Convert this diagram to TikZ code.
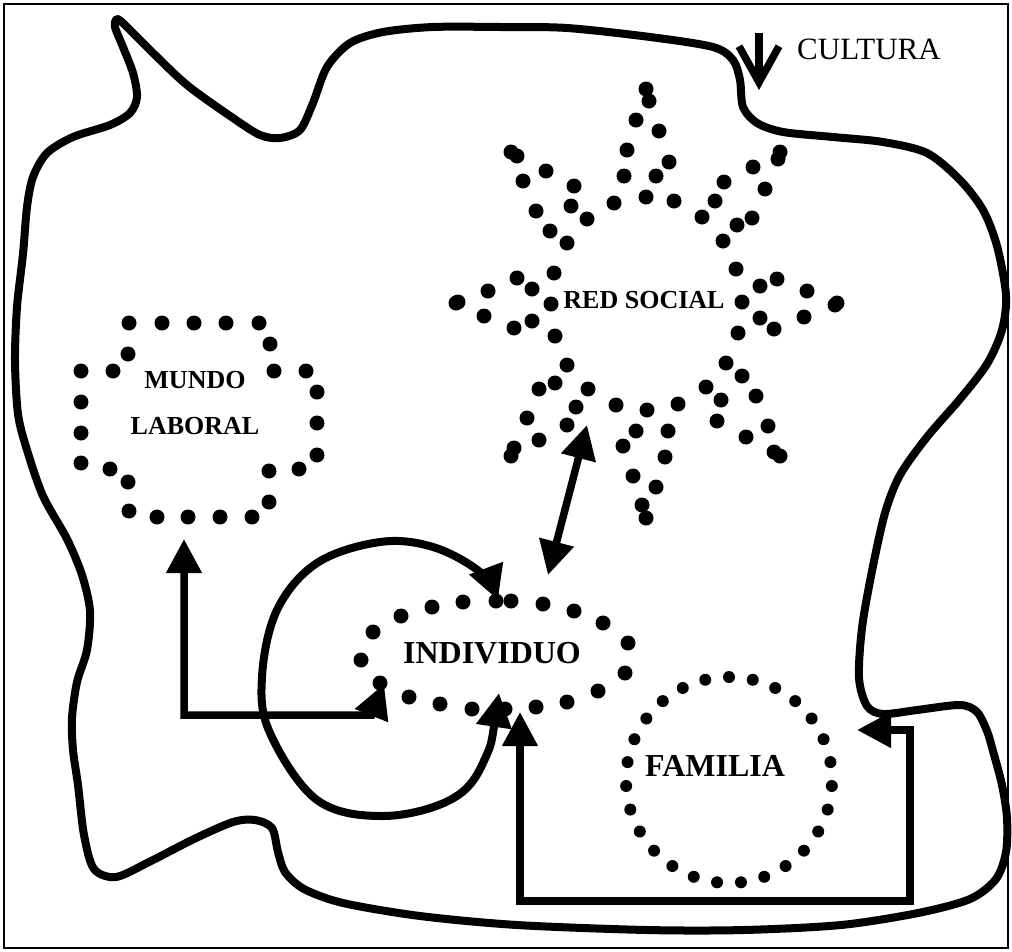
\documentclass[tikz,border=0pt]{standalone}
\usepackage{fontspec}
\setmainfont{Liberation Serif}
\usetikzlibrary{arrows.meta}

\tikzset{
  blob/.style={line width=8pt, line join=round},
  link/.style={line width=7.5pt},
  lbl/.style={font=\fontsize{32}{36}\selectfont\bfseries},
  smalllbl/.style={font=\fontsize{26}{46}\selectfont\bfseries, align=center},
}

\begin{document}
\begin{tikzpicture}[x=1pt, y=-1pt, >={Triangle[length=34pt,width=34pt]}]
    \useasboundingbox (0,0) rectangle (1012,951);
    \draw [line width=1.8pt] (4,4) rectangle (1008,948);
    % cultura
    \draw [blob] plot [smooth cycle, tension=0.5] coordinates {
      (72,718) (77,682) (87,650) (90,611) (82,575) (67,539) (43,496) (27,450)
      (18,414) (15,361) (17,307) (23,254) (27,207) (33,177) (47,153) (73,137)
      (110,125) (130,113) (137,97) (133,73) (123,47) (115,27) (117,19) (125,25)
      (150,50) (187,85) (233,118) (260,135) (280,138) (300,130) (313,103) (327,67)
      (350,43) (383,32) (433,27) (500,27) (567,28) (650,37) (713,47) (733,60)
      (740,80) (743,107) (757,123) (783,132) (833,137) (883,142) (927,153) (960,180)
      (983,210) (997,246) (1006,295) (1002,330) (987,364) (960,399) (927,437) (900,475)
      (885,513) (872,571) (862,628) (859,678) (867,706) (883,714) (917,710) (960,705)
      (977,712) (987,731) (993,751) (1002,785) (1007,818) (1006,852) (996,879) (970,899)
      (918,913) (841,925) (744,930) (647,930) (517,925) (420,916) (343,903) (304,889)
      (285,872) (278,852) (272,828) (255,820) (233,822) (194,839) (149,862) (116,877)
      (94,869) (84,835) (78,785) (73,750)};
    \node [font=\fontsize{31}{36}\selectfont] (cultura) at (869,49) {CULTURA};
    \coordinate (cultura-top) at (759,33);
    \coordinate (cultura-in) at (759,90);
    \draw [link, -{Straight Barb[length=36pt,width=40pt]}] (cultura-top) -- (cultura-in);
    % red social
    \node [smalllbl] (redsocial) at (644,300) {RED SOCIAL};
    \foreach \x/\y in {646/89, 649/101, 636/120, 659/131, 627/150, 669/162, 624/176,
        656/176, 614/203, 646/197, 674/201,
        511/152, 517/156, 546/171, 523/181, 574/186, 571/206, 536/211, 587/219, 550/231, 567/243,
        780/152, 778/159, 753/167, 765/189, 724/182, 715/201, 702/217, 737/225, 752/218, 723/241,
        456/303, 458/302, 488/291, 484/316, 517/278, 532/289, 554/273, 551/304, 532/321, 514/328, 555/336,
        835/305, 837/303, 807/291, 804/317, 777/279, 760/286, 736/269, 742/302, 760/318, 774/329, 738/333,
        567/365, 555/383, 539/389, 588/389, 576/407, 527/418, 567/425, 539/440, 514/448, 511/456,
        616/405, 647/410, 678/404, 636/431, 668/431, 623/446, 665/457, 633/476, 656/487, 642/505, 646/518,
        726/363, 742/376, 706/387, 756/396, 721/400, 717/421, 768/426, 746/437, 774/452, 780/456}
      \fill (\x,\y) circle (7.5);
    % mundo laboral
    \node [smalllbl] (mundo) at (195,403) {MUNDO\\LABORAL};
    \foreach \x/\y in {129/323, 162/323, 194/323, 226/323, 259/323, 270/344, 128/354,
        81/371, 113/371, 274/371, 306/371, 317/392, 81/402, 317/423, 81/433, 317/455,
        81/463, 110/469, 128/482, 269/471, 299/469, 269/502,
        129/511, 157/517, 188/517, 220/517, 252/517}
      \fill (\x,\y) circle (7.5);
    % individuo
    \node [lbl] (individuo) at (492,653) {INDIVIDUO};
    \foreach \x/\y in {361/660, 373/632, 401/616, 432/607, 463/602, 496/601, 511/601,
        543/604, 574/611, 603/623, 628/643, 625/673, 598/691, 567/702, 536/707,
        505/709, 472/709, 440/704, 409/697, 380/683}
      \fill (\x,\y) circle (7.5);
    % familia
    \node [lbl] (familia) at (715,766) {FAMILIA};
    \foreach \i in {0,...,26}
      \fill (729,780) ++ ({96.67+\i*13.333}:103) circle (6);
    % links
    \coordinate (mundo-out) at (184,539);
    \coordinate (ind-left)  at (384,684);
    \coordinate (ind-top)   at (548,575);
    \coordinate (rs-in)     at (587,425);
    \coordinate (loop-a)    at (499,693);
    \coordinate (loop-b)    at (498,600);
    \coordinate (ind-bot)   at (520,712);
    \coordinate (fam-in)    at (857,730);
    \draw [link, <->] (mundo-out) -- (184,715) -- (371.7,715) -- (ind-left);
    \draw [link, <->] (ind-top) -- (rs-in);
    \draw [line width=8pt, <->] plot [smooth, tension=0.6] coordinates {
      (loop-a) (483,763) (450,800) (383,816) (317,800) (270,733) (262,677)
      (277,610) (317,563) (380,542) (433,547) (480,572) (loop-b)};
    \draw [link, <->] (ind-bot) -- (520,901) -- (910,901) -- (910,730) -- (fam-in);
\end{tikzpicture}
\end{document}
